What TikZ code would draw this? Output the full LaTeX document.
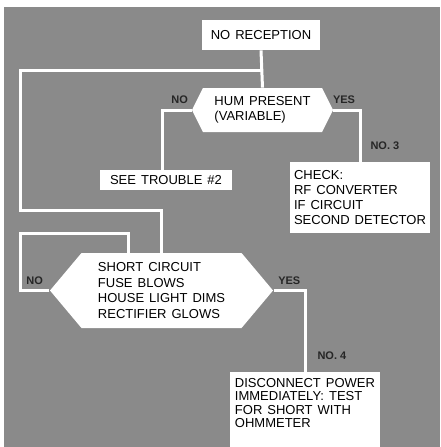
\documentclass[tikz,border=0pt]{standalone}
\usepackage{fontspec}
\setmainfont{Liberation Sans}
\usetikzlibrary{positioning, calc, shapes.symbols}
\definecolor{screen}{RGB}{138,138,138}
\newcommand{\chartfont}[1]{\fontsize{13}{#1}\selectfont\spaceskip=5pt plus 1pt\relax}

\begin{document}
\begin{tikzpicture}[x=1pt, y=-1pt, >=latex, thick,
		box/.style={rectangle, fill=white, inner sep=0pt, font=\chartfont{15.2}},
		hexbox/.style={signal, signal to=east and west, fill=white, inner sep=0pt, align=left, font=\chartfont{15.5}},
		tag/.style={font=\fontsize{11}{13}\selectfont\bfseries, text=black!85, inner sep=1pt},
		link/.style={draw=white, line width=3pt}]
		\useasboundingbox (0,0) rectangle (440,447);
		\fill [screen] (4,7) rectangle (440,447);

		\node [box, minimum width=118pt, minimum height=30pt] (rec) at (261,35) {NO RECEPTION};
		\node [hexbox, minimum width=141pt, minimum height=44pt, signal pointer angle=127] (hum) at (262.5,110) {HUM PRESENT\\(VARIABLE)};
		\node [box, minimum width=132pt, minimum height=20pt] (trouble) at (166,180) {SEE TROUBLE \#2};
		\node [box, align=left, minimum width=140pt, minimum height=71pt] (check) at (360,197.5) {CHECK:\\RF CONVERTER\\IF CIRCUIT\\SECOND DETECTOR};
		\node [hexbox, minimum width=223pt, minimum height=75pt, signal pointer angle=100] (short) at (161.5,290.5) {SHORT CIRCUIT\\FUSE BLOWS\\HOUSE LIGHT DIMS\\RECTIFIER GLOWS};
		\node [box, align=left, anchor=north, minimum width=150pt, inner ysep=6pt, text depth=14pt, font=\chartfont{13.4}] (disc) at (305,372) {DISCONNECT POWER\\IMMEDIATELY: TEST\\FOR SHORT WITH\\OHMMETER};

		\coordinate (bendtop) at (20,70);
		\coordinate (bendlow) at (20,210);
		\coordinate (loopleft) at (20,233);

		\draw [link] (rec.south) -- (hum.north);
		\draw [link] (rec.south |- bendtop) -- (bendtop) -- (bendlow) -| (short.north);
		\draw [link] (hum.west) -| ([xshift=-4pt]trouble.north) node [tag, pos=0.2, above=4pt] {NO};
		\draw [link] (hum.east) -| (check.north) node [tag, pos=0.2, above=4pt] {YES} node [tag, pos=0.85, right=8pt] {NO. 3};
		\draw [link] (short.west) -| (loopleft) node [tag, pos=0.25, above=3pt] {NO} -| ($(short.north)+(-33.5,0)$);
		\draw [link] (short.east) -| (disc.north) node [tag, pos=0.25, above=3pt] {YES} node [tag, pos=0.9, right=10pt] {NO. 4};
	\end{tikzpicture}
\end{document}
